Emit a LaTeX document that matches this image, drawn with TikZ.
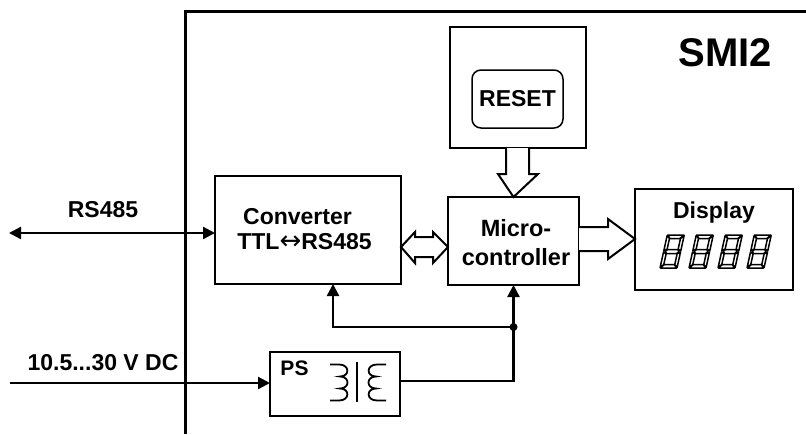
\documentclass[tikz,border=0pt]{standalone}
\usepackage{fontspec}
\setmainfont{Liberation Sans}
\newfontfamily\arrowfont{DejaVu Sans}
\usetikzlibrary{arrows.meta,calc}
\tikzset{
  box/.style={draw=black,line width=2pt,fill=white,outer sep=0pt,inner sep=0pt},
  lbl/.style={font=\fontsize{23}{29}\selectfont\bfseries,inner sep=0pt,align=center},
  wire/.style={draw=black,line width=2.3pt,-{Triangle[length=12pt,width=12pt]}},
  dwire/.style={draw=black,line width=2.3pt,{Triangle[length=12pt,width=12pt]}-{Triangle[length=12pt,width=12pt]}},
  plain/.style={draw=black,line width=2.3pt},
  block/.style={draw=black,line width=2pt,fill=white,line join=miter},
  seg/.style={draw=black,line width=1.5pt,line join=round},
  coil/.style={draw=black,line width=1.8pt}
}
\newcommand{\segdigit}{%
  \draw[seg] (0.5,-33)--(16.5,-33)--(13.5,-29.5)--(3.5,-29.5)--cycle;
  \draw[seg] (1.5,-16.5)--(3.5,-18.5)--(13.5,-18.5)--(15.5,-16.5)--(13.5,-14.5)--(3.5,-14.5)--cycle;
  \draw[seg] (0.5,0)--(16.5,0)--(13.5,-3.5)--(3.5,-3.5)--cycle;
  \draw[seg] (0,-32.5)--(3,-29.5)--(3,-19)--(0,-17)--cycle;
  \draw[seg] (17,-32.5)--(14,-29.5)--(14,-19)--(17,-17)--cycle;
  \draw[seg] (0,-0.5)--(3,-3.5)--(3,-14)--(0,-16)--cycle;
  \draw[seg] (17,-0.5)--(14,-3.5)--(14,-14)--(17,-16)--cycle;
}
\begin{document}
\begin{tikzpicture}[x=1pt,y=-1pt]
\useasboundingbox (0,0) rectangle (806,434);
% enclosure
\coordinate (encbl) at (185.5,434);
\coordinate (enctl) at (185.5,11.5);
\coordinate (enctr) at (806,11.5);
\draw[line width=3.5pt] (encbl) -- (enctl);
\draw[line width=2.5pt] ($(enctl)+(-1.75,0)$) -- (enctr);
% external lines
\coordinate (rsl) at (9,233);
\coordinate (vin) at (10,383);
% boxes
\node[box,minimum width=186pt,minimum height=108pt] (conv) at (308,230) {};
\node[box,minimum width=131pt,minimum height=88pt] (micro) at (513.5,241) {};
\node[box,minimum width=158pt,minimum height=101pt] (disp) at (714,239.5) {};
\node[box,minimum width=136pt,minimum height=121pt] (rbox) at (518,87.5) {};
\node[box,line width=1.5pt,rounded corners=9pt,minimum width=91pt,minimum height=58pt,lbl] (rbtn) at (517.5,99) {RESET};
\node[box,minimum width=130pt,minimum height=64pt] (ps) at (335,384) {};
% labels
\node[lbl,font=\fontsize{40}{44}\selectfont\bfseries] (smi) at (725.5,53) {SMI2};
\node[lbl] (rslabel) at (103,210) {RS485};
\node[lbl] (vlabel) at (103,363) {10.5...30 V DC};
\node[lbl] (c1) at (297.5,217) {Converter};
\node[lbl] (c2) at (304.5,242) {TTL{\arrowfont\mdseries\fontsize{26}{29}\selectfont ↔}RS485};
\node[lbl,font=\fontsize{23.5}{29}\selectfont\bfseries] (mlabel) at (516,242.5) {Micro-\\controller};
\node[lbl] (dlabel) at (714,212.5) {Display};
\node[lbl,font=\fontsize{21}{24}\selectfont\bfseries] (pslabel) at (294.5,368.5) {PS};
% connectors
\draw[dwire] (rsl) -- (rsl -| conv.west);
\draw[wire] (vin) -- (vin -| ps.west);
\coordinate (jn) at ($(micro.south)+(0,42)$);
\draw[plain] ($(ps.east)+(0,-3)$) -| (jn);
\draw[wire] (jn) -- (micro.south);
\draw[wire] (jn) -| ($(conv.south)+(25,0)$);
\node[circle,fill=black,inner sep=0pt,minimum size=8pt] (jdot) at (jn) {};
% block arrows
\draw[block] ($(rbox.south)+(-12,0)$) -- ($(rbox.south)+(-12,26)$) -- ($(rbox.south)+(-20,26)$)
  -- (micro.north) -- ($(rbox.south)+(20,26)$) -- ($(rbox.south)+(11,26)$) -- ($(rbox.south)+(11,0)$);
\coordinate (dbl) at (conv.east |- 0,247);
\coordinate (dbr) at (micro.west |- 0,247);
\draw[block] (dbl) -- ($(dbl)+(14,-15)$) -- ($(dbl)+(14,-10)$) -- ($(dbr)+(-15,-10)$) -- ($(dbr)+(-15,-15)$)
  -- (dbr) -- ($(dbr)+(-15,16)$) -- ($(dbr)+(-15,10)$) -- ($(dbl)+(14,10)$) -- ($(dbl)+(14,16)$) -- cycle;
\coordinate (oa) at (micro.east |- 0,239);
\coordinate (ob) at (disp.west |- 0,239);
\draw[block] ($(oa)+(0,-12)$) -- ($(oa)+(29,-12)$) -- ($(oa)+(29,-20)$) -- (ob)
  -- ($(oa)+(29,20)$) -- ($(oa)+(29,12)$) -- ($(oa)+(0,12)$);
% transformer
\draw[coil] (330,364.5) -- (339,364.5) .. controls (350,364.5) and (350,376.5) .. (340,376.5)
  .. controls (350,376.5) and (350,388.5) .. (340,388.5)
  .. controls (350,388.5) and (350,400.5) .. (339,400.5) -- (330,400.5);
\draw[line width=2pt] (357,362) -- (357,401.5);
\draw[coil] (386,364.5) -- (377,364.5) .. controls (366,364.5) and (366,376.5) .. (376,376.5)
  .. controls (366,376.5) and (366,388.5) .. (376,388.5)
  .. controls (366,388.5) and (366,400.5) .. (377,400.5) -- (386,400.5);
% seven-segment digits
\foreach \dx in {0,29,58,87}{
  \begin{scope}[shift={(660+\dx,268)},xslant=0.22]
    \segdigit
  \end{scope}
}
\end{tikzpicture}
\end{document}
